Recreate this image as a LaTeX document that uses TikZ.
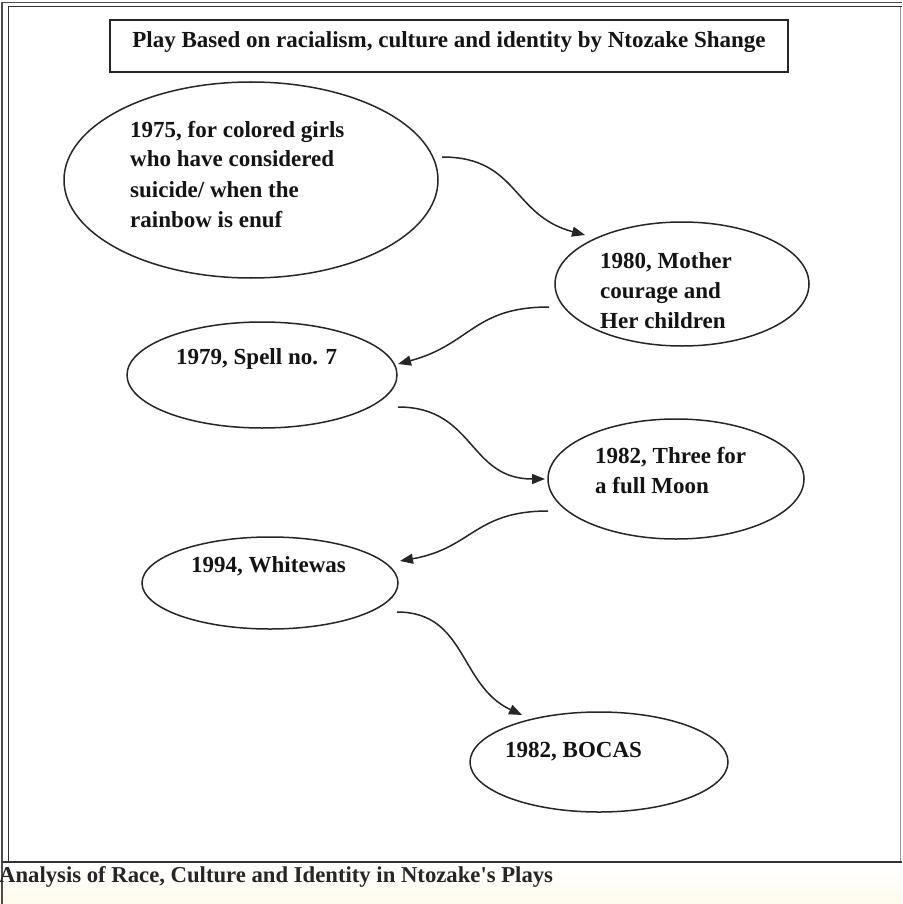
\documentclass[tikz,border=0pt]{standalone}
\usepackage{fontspec}
\setmainfont{Liberation Serif}
\usetikzlibrary{shapes.geometric,arrows.meta}
\begin{document}
\begin{tikzpicture}[x=1pt,y=1pt,
  oval/.style={draw=black!85,line width=1.5pt,ellipse,inner sep=0pt,outer sep=0pt},
  lbl/.style={font=\fontsize{23}{30}\selectfont\bfseries,text=black!92,inner sep=0pt,anchor=base west},
  arr/.style={draw=black!85,line width=1.5pt,-{Triangle[length=13pt,width=10pt]}},
  frameline/.style={draw=black!70,line width=1.6pt},
  thinframe/.style={draw=black!80,line width=1pt}]
\useasboundingbox (0,0) rectangle (902,-904);
\clip (0,0) rectangle (902,-904);
\fill[white] (0,0) rectangle (902,-904);
\shade[top color=white,bottom color={rgb,255:red,255;green,250;blue,236}] (0,-864) rectangle (902,-904);
% frame
\draw[frameline] (2,-904) -- (2,-2.5) -- (902,-2.5);
\draw[thinframe] (8,-862) -- (8,-7) -- (902,-7);
\draw[draw=black!40,line width=0.8pt] (900.5,-7) -- (900.5,-862);
\draw[draw=black!80,line width=2pt] (2,-862) -- (902,-862);
% title
\node[draw=black!85,line width=1.5pt,minimum width=678pt,minimum height=52pt,inner sep=0pt,
  text height=16pt,text depth=12pt,font=\fontsize{23}{30}\selectfont\bfseries,text=black!92]
  (title) at (449,-46) {Play Based on racialism, culture and identity by Ntozake Shange};
% ellipses
\node[oval,minimum width=374pt,minimum height=196pt] (e1) at (251,-180) {};
\node[oval,minimum width=254pt,minimum height=124pt] (e2) at (682,-284) {};
\node[oval,minimum width=270pt,minimum height=106pt] (e3) at (262,-375) {};
\node[oval,minimum width=256pt,minimum height=120pt] (e4) at (676,-479) {};
\node[oval,minimum width=256pt,minimum height=92pt] (e5) at (270,-583) {};
\node[oval,minimum width=258pt,minimum height=100pt] (e6) at (599,-762) {};
% texts
\node[lbl] (t1a) at (130,-138) {1975, for colored girls};
\node[lbl] (t1b) at (130,-167) {who have considered};
\node[lbl] (t1c) at (130,-197) {suicide/ when the};
\node[lbl] (t1d) at (130,-227) {rainbow is enuf};
\node[lbl] (t2a) at (600,-268) {1980, Mother};
\node[lbl] (t2b) at (600,-298) {courage and};
\node[lbl] (t2c) at (600,-328) {Her children};
\node[lbl] (t3) at (176,-364) {1979, Spell no. 7};
\node[lbl] (t4a) at (595,-463) {1982, Three for};
\node[lbl] (t4b) at (595,-493) {a full Moon};
\node[lbl] (t5) at (191,-572) {1994, Whitewas};
\node[lbl] (t6) at (505,-757) {1982, BOCAS};
% connectors
\draw[arr] ([shift={(4,23)}]e1.east) to[out=0,in=165,looseness=1.2] ([shift={(30,49)}]e2.west);
\draw[arr] ([shift={(-6,-23)}]e2.west) to[out=180,in=15,looseness=1.2] ([shift={(1,11)}]e3.east);
\draw[arr] ([shift={(1,-32)}]e3.east) to[out=0,in=180,looseness=1.2] ([shift={(-3,0)}]e4.west);
\draw[arr] ([shift={(0,-32)}]e4.west) to[out=180,in=10,looseness=1.2] ([shift={(2,22)}]e5.east);
\draw[arr] ([shift={(-1,-29)}]e5.east) to[out=0,in=155,looseness=1.1] ([shift={(-77,-3)}]e6.north);
% caption
\node[lbl,font=\fontsize{22.7}{30}\selectfont\bfseries,text=black!85] (cap) at (-1,-882) {Analysis of Race, Culture and Identity in Ntozake\textquotesingle s Plays};
\end{tikzpicture}
\end{document}
